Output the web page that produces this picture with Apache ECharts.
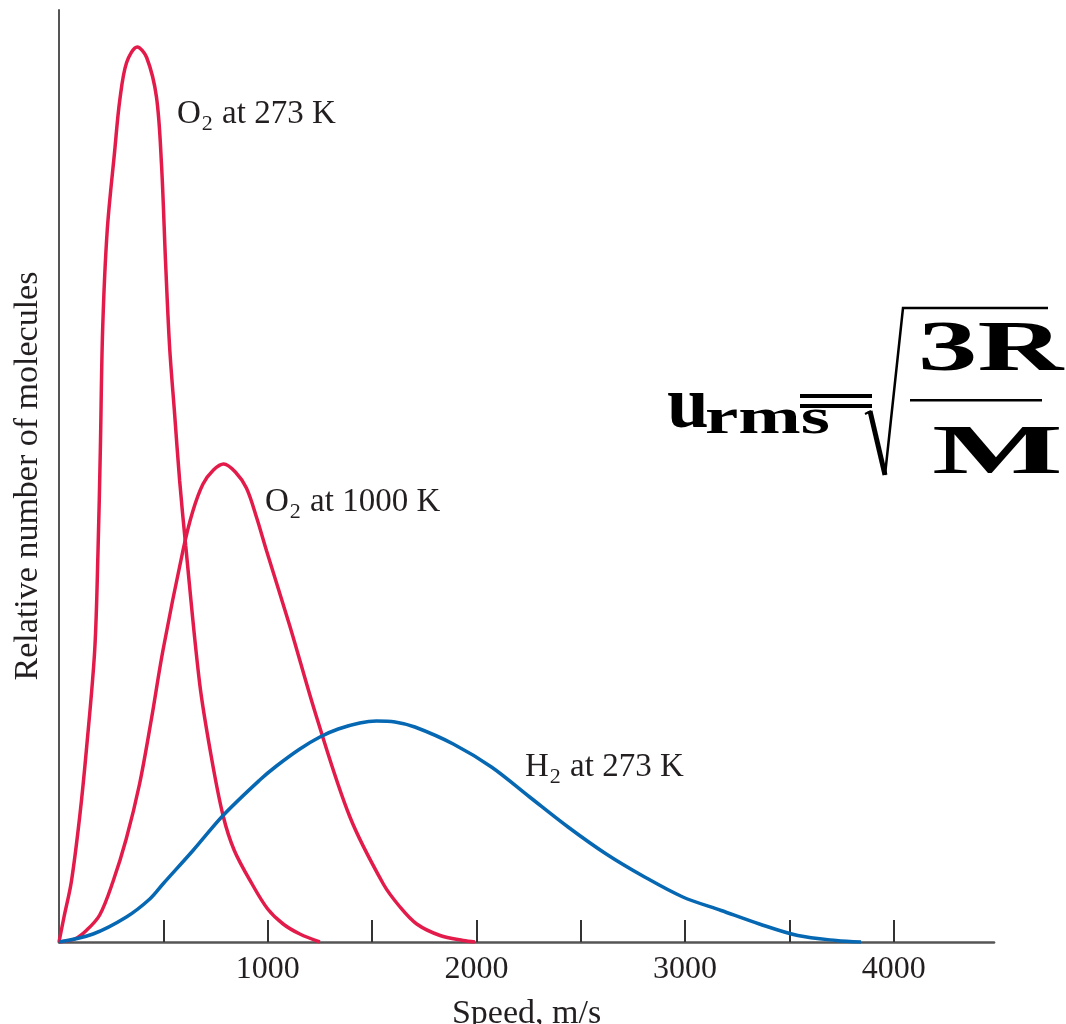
<!DOCTYPE html>
<html lang="en">
<head>
<meta charset="UTF-8">
<title>Maxwell speed distribution</title>
<style>
  html, body { margin: 0; padding: 0; background: #fff; }
  #main { width: 1066px; height: 1024px; }
</style>
</head>
<body>
<div id="main"></div>
<script src="https://cdn.jsdelivr.net/npm/echarts@6/dist/echarts.min.js"></script>
<script>
// speed (m/s), relative number of molecules (arbitrary units)
const o2Cold = [[0,0],[24,25],[59,60],[99,125],[131,191.5],[171,291.5],[187,391.5],[198,491.5],[209,611.5],
  [231,711.5],[267,791.5],[291,841.5],[324,879.5],[375,895],[420,884.5],[467,845],[491,778],[511,678],
  [530,595],[554,528],[578,461.5],[607,396.5],[674,258.5],[730,185],[786,126.5],[840,91.5],[925,58],
  [1000,33],[1074,18],[1154,8],[1250,0]];
const o2Hot = [[0,0],[75,3],[131,11.5],[195,27],[258,60],[322,103],[386,158],[442,222],[498,291.5],
  [594,391.5],[640,430],[690,458],[740,472],[789,478],[845,470],[898,454],[946,425],[994,391.5],
  [1106,316],[1234,225],[1394,125],[1554,58],[1634,35],[1714,18],[1826,6.5],[1937,1.5],[1993,0]];
const h2Cold = [[0,0],[163,8],[323,25],[435,43],[498,58],[642,91.5],[786,126.5],[962,162],[1042,176],
  [1154,193],[1250,205],[1338,213],[1441,219],[1521,221],[1610,220],[1705,215],[1889,198],[2072,175],
  [2255,145],[2439,115],[2622,88],[2806,65],[2989,45],[3173,31.5],[3356,18],[3540,6.5],[3724,1.5],[3843,0]];

const tickValues = [500, 1000, 1500, 2000, 2500, 3000, 3500, 4000];
const labelValues = [1000, 2000, 3000, 4000];
const curveNames = ['O2 at 273 K', 'O2 at 1000 K', 'H2 at 273 K'];

const red = '#e31b4b';
const blue = '#0667b2';
const ink = '#231f20';
const serif = 'Liberation Serif';

function line(name, data, color) {
  return {
    name: name,
    type: 'line',
    data: data,
    smooth: 0.33,
    showSymbol: false,
    lineStyle: { color: color, width: 3.5 },
    animation: false
  };
}

// curve label with subscript 2
function curveLabel(x, y, gas, rest) {
  return {
    type: 'text',
    x: x,
    y: y,
    style: {
      text: '{g|' + gas + '}{s|2}{t|' + rest + '}',
      verticalAlign: 'top',
      rich: {
        g: { fontFamily: serif, fontSize: 33, lineHeight: 33, fill: ink },
        s: { fontFamily: serif, fontSize: 22, lineHeight: 22, padding: [20, 1, 0, 1], fill: ink },
        t: { fontFamily: serif, fontSize: 33, lineHeight: 33, fill: ink }
      }
    }
  };
}

function formulaText(x, y, text, size, sx) {
  return {
    type: 'text',
    x: x,
    y: y,
    scaleX: sx,
    style: {
      text: text,
      x: 0,
      y: 0,
      fontFamily: serif,
      fontWeight: 'bold',
      fontSize: size,
      verticalAlign: 'top',
      fill: '#000'
    }
  };
}

var myChart = echarts.init(document.getElementById('main'));

var option = {
  backgroundColor: '#fff',
  animation: false,
  grid: { left: 59, right: 72, top: 10, bottom: 82, outerBoundsMode: 'none', containLabel: false },
  xAxis: {
    type: 'value',
    min: 0,
    max: 4480,
    name: 'Speed, m/s',
    nameLocation: 'middle',
    nameGap: 55,
    nameTextStyle: { fontFamily: serif, fontSize: 34, color: ink },
    axisLine: { lineStyle: { color: '#555', width: 2.7 } },
    axisTick: { inside: true, length: 22, customValues: tickValues, lineStyle: { color: '#333', width: 2 } },
    axisLabel: {
      customValues: labelValues,
      margin: 12,
      fontFamily: serif,
      fontSize: 32,
      color: ink,
      formatter: function (v) { return String(v); }
    },
    splitLine: { show: false }
  },
  yAxis: {
    type: 'value',
    min: 0,
    max: 932,
    name: 'Relative number of molecules',
    nameLocation: 'middle',
    nameGap: 14,
    nameTextStyle: { fontFamily: serif, fontSize: 34, color: ink },
    axisLine: { show: true, lineStyle: { color: '#555', width: 2 } },
    axisTick: { show: false },
    axisLabel: { show: false },
    splitLine: { show: false }
  },
  series: [
    line(curveNames[0], o2Cold, red),
    line(curveNames[1], o2Hot, red),
    line(curveNames[2], h2Cold, blue)
  ],
  graphic: [
    curveLabel(177, 98, 'O', ' at 273 K'),
    curveLabel(265, 486, 'O', ' at 1000 K'),
    curveLabel(525, 751, 'H', ' at 273 K'),
    // u_rms = sqrt(3R / M)
    formulaText(667, 370, 'u', 75, 1),
    formulaText(705, 395, 'rms', 50, 1.5),
    { type: 'rect', shape: { x: 800, y: 394, width: 72, height: 4 }, style: { fill: '#000' } },
    { type: 'rect', shape: { x: 800, y: 404, width: 72, height: 4 }, style: { fill: '#000' } },
    { type: 'polyline', shape: { points: [[865, 414], [871, 411]] }, style: { stroke: '#000', lineWidth: 2, fill: null } },
    { type: 'polyline', shape: { points: [[870, 411], [885, 475]] }, style: { stroke: '#000', lineWidth: 5, fill: null } },
    { type: 'polyline', shape: { points: [[885, 475], [903, 308], [1048, 308]] }, style: { stroke: '#000', lineWidth: 2.5, fill: null } },
    { type: 'rect', shape: { x: 910, y: 399, width: 132, height: 2.5 }, style: { fill: '#000' } },
    formulaText(918, 315, '3R', 72, 1.65),
    formulaText(932, 420, 'M', 70, 1.98)
  ]
};

myChart.setOption(option);
</script>
</body>
</html>
